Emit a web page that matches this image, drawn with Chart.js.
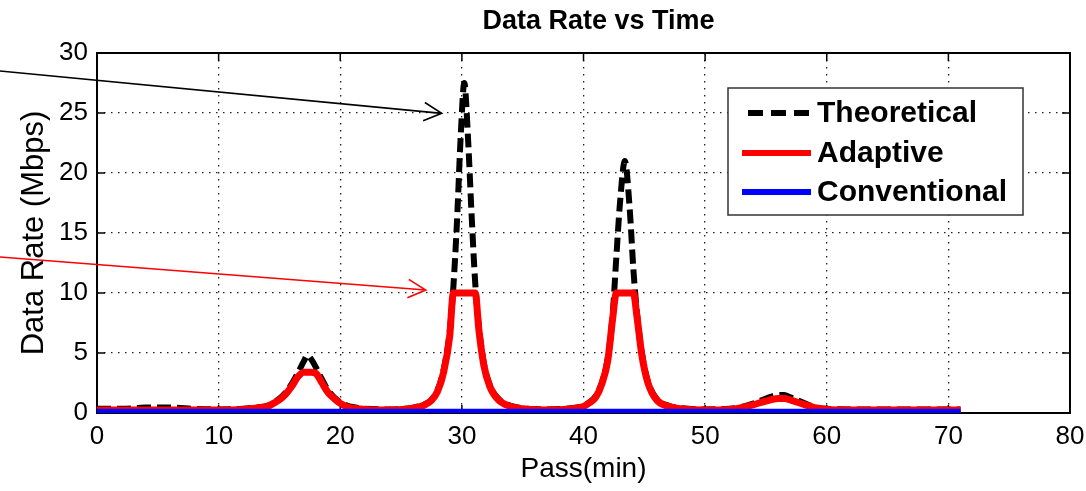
<!DOCTYPE html>
<html>
<head>
<meta charset="utf-8">
<script src="https://cdn.jsdelivr.net/npm/chart.js@4/dist/chart.umd.min.js"></script>
<style>
  body { margin: 0; background: #fff; }
  #wrap { width: 1086px; height: 491px; }
</style>
</head>
<body>
<div id="wrap"><canvas id="rate-chart"></canvas></div>
<script>
// Pass time (min) shared by the theoretical and adaptive curves
const passTime = [0, 2, 4, 6, 8, 10, 12, 13,
  14, 14.5, 15, 15.5, 16, 16.5, 17, 17.3, 17.6, 18,
  18.5, 19, 19.5, 20, 20.5, 21, 22, 24, 26, 27,
  27.5, 28, 28.5, 29, 29.3, 29.6, 29.9, 30.2, 30.5, 30.8,
  31.1, 31.4, 31.8, 32.3, 33, 34, 35, 37, 39, 40,
  40.5, 41, 41.5, 42, 42.4, 42.7, 43, 43.4, 43.8, 44.1,
  44.4, 44.8, 45.3, 46, 47, 48, 50, 52, 53, 54,
  55, 56, 56.5, 57, 58, 59, 60, 62, 65, 68,
  71];

// Data rate (Mbps)
const theoretical = [0.35, 0.35, 0.45, 0.45, 0.35, 0.3, 0.35, 0.45,
  0.6, 0.85, 1.2, 1.7, 2.4, 3.3, 4.3, 4.8, 4.5, 3.8,
  2.8, 1.9, 1.3, 0.9, 0.65, 0.5, 0.35, 0.3, 0.45, 0.75,
  1.1, 1.9, 3.6, 6.8, 10.5, 16, 23, 27.5, 23, 16.5,
  10.8, 7.2, 4.2, 2.3, 1.2, 0.6, 0.4, 0.3, 0.4, 0.6,
  0.9, 1.4, 2.5, 4.6, 8.2, 13, 17.5, 21, 17, 12,
  8.3, 5, 2.6, 1.2, 0.6, 0.4, 0.3, 0.35, 0.5, 0.8,
  1.2, 1.5, 1.5, 1.3, 0.9, 0.5, 0.35, 0.3, 0.3, 0.3,
  0.3];

const adaptive = [0.25, 0.25, 0.25, 0.25, 0.25, 0.25, 0.3, 0.4,
  0.55, 0.8, 1.1, 1.55, 2.2, 3.0, 3.4, 3.4, 3.4, 3.3,
  2.5, 1.7, 1.2, 0.8, 0.55, 0.4, 0.3, 0.25, 0.4, 0.7,
  1.05, 1.8, 3.4, 6.4, 10, 10, 10, 10, 10, 10,
  10, 6.9, 4.0, 2.2, 1.1, 0.55, 0.35, 0.25, 0.35, 0.55,
  0.85, 1.3, 2.4, 4.4, 7.9, 10, 10, 10, 10, 10,
  8.0, 4.8, 2.5, 1.1, 0.55, 0.35, 0.25, 0.3, 0.45, 0.7,
  1.0, 1.2, 1.2, 1.1, 0.75, 0.45, 0.3, 0.25, 0.25, 0.25,
  0.25];

const convTime = [0, 71];
const conventional = [0.1, 0.1];

const seriesNames = ['Theoretical', 'Adaptive', 'Conventional'];
const seriesColors = ['#000000', '#ff0000', '#0000ff'];

const xTicks = [0, 10, 20, 30, 40, 50, 60, 70, 80];
const yTicks = [0, 5, 10, 15, 20, 25, 30];

// Annotation arrows, in axis units: [fromX, fromY, toX, toY]
const arrowTheoretical = [-7.98, 28.5, 28.34, 24.97];
const arrowAdaptive = [-7.98, 13.0, 27.03, 10.25];

const FONT = 'Liberation Sans, Arial, Helvetica, sans-serif';

function toPoints(xs, ys) {
  return xs.map((x, i) => ({ x: x, y: ys[i] }));
}

function drawArrow(ctx, x0, y0, x1, y1, color) {
  const ang = Math.atan2(y1 - y0, x1 - x0);
  const len = 20, spread = 0.48;
  ctx.save();
  ctx.strokeStyle = color;
  ctx.lineWidth = 1.6;
  ctx.beginPath();
  ctx.moveTo(x0, y0);
  ctx.lineTo(x1, y1);
  ctx.moveTo(x1 - len * Math.cos(ang - spread), y1 - len * Math.sin(ang - spread));
  ctx.lineTo(x1, y1);
  ctx.lineTo(x1 - len * Math.cos(ang + spread), y1 - len * Math.sin(ang + spread));
  ctx.stroke();
  ctx.restore();
}

// frame, inner ticks, legend box, arrows and title (MATLAB style)
const matlabLook = {
  id: 'matlabLook',
  beforeDatasetsDraw(chart) {
    const { ctx, chartArea: a, scales: { x, y } } = chart;
    ctx.save();
    ctx.strokeStyle = '#000';
    ctx.lineWidth = 1.5;
    ctx.beginPath();
    xTicks.forEach(v => {
      const px = x.getPixelForValue(v);
      ctx.moveTo(px, a.top); ctx.lineTo(px, a.top + 8);
      ctx.moveTo(px, a.bottom); ctx.lineTo(px, a.bottom - 8);
    });
    yTicks.forEach(v => {
      const py = y.getPixelForValue(v);
      ctx.moveTo(a.left, py); ctx.lineTo(a.left + 8, py);
      ctx.moveTo(a.right, py); ctx.lineTo(a.right - 8, py);
    });
    ctx.stroke();
    ctx.lineWidth = 2;
    ctx.strokeRect(a.left, a.top, a.right - a.left, a.bottom - a.top);
    ctx.restore();
  },
  afterDraw(chart) {
    const { ctx, chartArea: a, scales: { x, y } } = chart;
    ctx.save();

    // title, centred over the axes
    ctx.fillStyle = '#000';
    ctx.font = 'bold 27px ' + FONT;
    ctx.textAlign = 'center';
    ctx.textBaseline = 'middle';
    ctx.fillText('Data Rate vs Time', (a.left + a.right) / 2 + 15, 22);

    // legend box
    const bx = a.right - 342, by = a.top + 35, bw = 295, bh = 127;
    ctx.fillStyle = '#fff';
    ctx.fillRect(bx, by, bw, bh);
    ctx.strokeStyle = '#333';
    ctx.lineWidth = 1.5;
    ctx.strokeRect(bx, by, bw, bh);
    const rows = [25, 65, 104];
    seriesNames.forEach((name, i) => {
      const ry = by + rows[i];
      ctx.beginPath();
      ctx.strokeStyle = seriesColors[i];
      ctx.lineWidth = 6;
      ctx.setLineDash(i === 0 ? [15, 8] : []);
      ctx.moveTo(bx + (i === 0 ? 20 : 14), ry);
      ctx.lineTo(bx + 83, ry);
      ctx.stroke();
      ctx.setLineDash([]);
      ctx.fillStyle = '#000';
      ctx.font = 'bold 30px ' + FONT;
      ctx.textAlign = 'left';
      ctx.textBaseline = 'middle';
      ctx.fillText(name, bx + 89, ry + 1);
    });
    ctx.restore();

    // arrows pointing at the peaks
    [[arrowTheoretical, '#000'], [arrowAdaptive, '#ff0000']].forEach(([p, c]) => {
      drawArrow(ctx, x.getPixelForValue(p[0]), y.getPixelForValue(p[1]),
        x.getPixelForValue(p[2]), y.getPixelForValue(p[3]), c);
    });
  }
};

const ctx = document.getElementById('rate-chart').getContext('2d');
const rateChart = new Chart(ctx, {
  type: 'line',
  data: {
    datasets: [{
      label: seriesNames[0],
      data: toPoints(passTime, theoretical),
      borderColor: seriesColors[0],
      borderWidth: 6,
      borderDash: [14, 6],
      cubicInterpolationMode: 'monotone',
      pointRadius: 0,
      order: 3
    }, {
      label: seriesNames[1],
      data: toPoints(passTime, adaptive),
      borderColor: seriesColors[1],
      borderWidth: 7,
      cubicInterpolationMode: 'monotone',
      borderJoinStyle: 'round',
      pointRadius: 0,
      order: 2
    }, {
      label: seriesNames[2],
      data: toPoints(convTime, conventional),
      borderColor: seriesColors[2],
      borderWidth: 6,
      pointRadius: 0,
      order: 1
    }]
  },
  options: {
    responsive: true,
    maintainAspectRatio: false,
    animation: false,
    layout: { padding: { top: 53, right: 0, left: 0, bottom: 0 } },
    plugins: {
      legend: { display: false },
      title: { display: false },
      tooltip: { enabled: false }
    },
    scales: {
      x: {
        type: 'linear',
        min: 0,
        max: 80,
        afterFit(scale) { scale.height = 78; scale.paddingRight = 16; scale.paddingLeft = 0; },
        afterBuildTicks(scale) { scale.ticks = xTicks.map(v => ({ value: v })); },
        ticks: { color: '#000', font: { family: FONT, size: 26 }, padding: 8, maxRotation: 0 },
        grid: { color: '#222', lineWidth: 1.3, drawTicks: false },
        border: { display: false, dash: [1.5, 5.5] },
        title: {
          display: true,
          text: 'Pass(min)',
          color: '#000',
          font: { family: FONT, size: 28 },
          padding: { top: 0, bottom: 5 }
        }
      },
      y: {
        min: 0,
        max: 30,
        afterFit(scale) { scale.width = 97; },
        afterBuildTicks(scale) { scale.ticks = yTicks.map(v => ({ value: v })); },
        ticks: { color: '#000', font: { family: FONT, size: 26 }, padding: 9 },
        grid: { color: '#222', lineWidth: 1.3, drawTicks: false },
        border: { display: false, dash: [1.5, 5.5] },
        title: {
          display: true,
          text: 'Data Rate (Mbps)',
          color: '#000',
          font: { family: FONT, size: 31 },
          padding: { top: 16, bottom: 0 }
        }
      }
    }
  },
  plugins: [matlabLook]
});
</script>
</body>
</html>
